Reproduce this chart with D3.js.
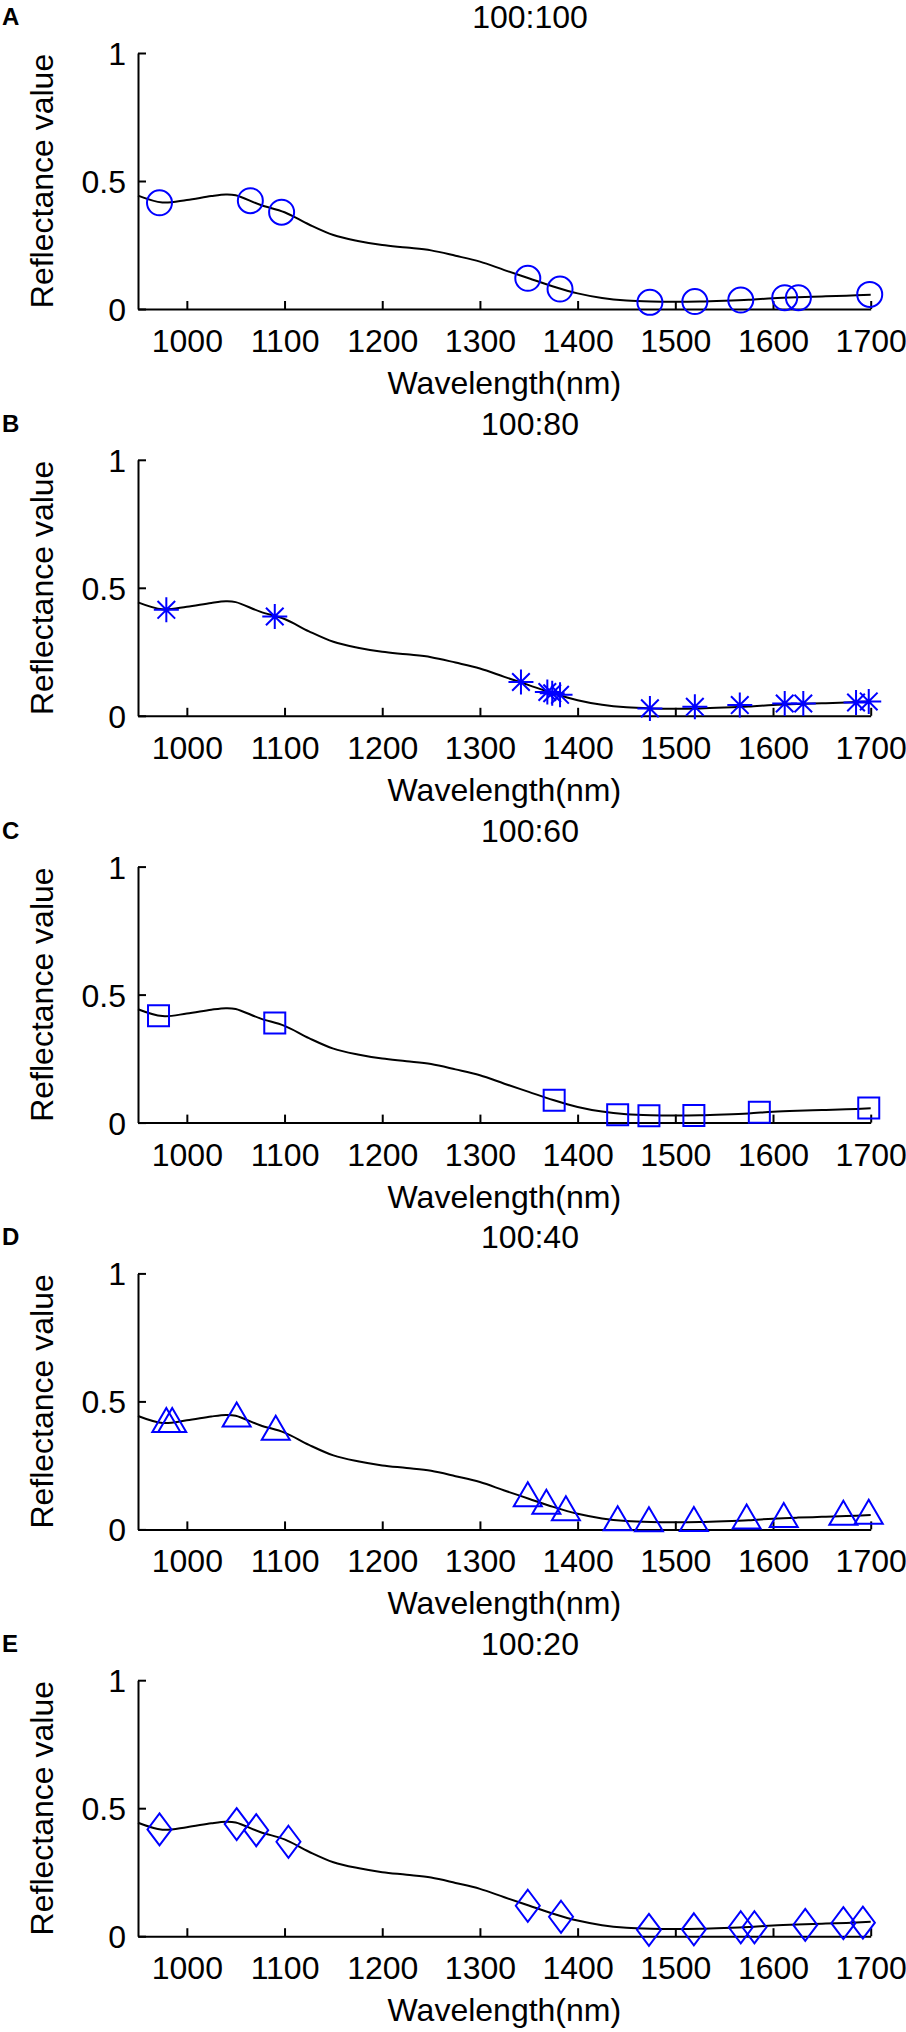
<!DOCTYPE html>
<html>
<head>
<meta charset="utf-8">
<script src="https://cdn.jsdelivr.net/npm/d3@7/dist/d3.min.js"></script>
<style>
  html, body { margin: 0; padding: 0; background: #fff; }
  svg { display: block; }
  text { font-family: "Liberation Sans", Arial, Helvetica, sans-serif; fill: #000; }
</style>
</head>
<body>
<svg id="chart" width="906" height="2032"></svg>
<script>
// ---------- data ----------
const panelLetters = ["A", "B", "C", "D", "E"];
const panelTitles = ["100:100", "100:80", "100:60", "100:40", "100:20"];
const markerTypes = ["circle", "asterisk", "square", "triangle", "diamond"];
const xTicks = [1000, 1100, 1200, 1300, 1400, 1500, 1600, 1700];
const yTicks = [0, 0.5, 1];
const yTickLabels = ["0", "0.5", "1"];
const xLabel = "Wavelength(nm)";
const yLabel = "Reflectance value";

// mean spectrum (same in all panels)
const curveWavelength = [950, 975, 1000, 1025, 1040, 1050, 1075, 1100, 1125, 1150, 1175, 1200, 1225, 1250, 1275, 1300, 1325, 1350, 1375, 1400, 1425, 1450, 1475, 1500, 1525, 1550, 1575, 1600, 1625, 1650, 1675, 1700];
const curveReflectance = [0.443, 0.416, 0.426, 0.441, 0.447, 0.444, 0.407, 0.378, 0.330, 0.289, 0.266, 0.250, 0.240, 0.229, 0.208, 0.185, 0.152, 0.120, 0.088, 0.061, 0.043, 0.033, 0.029, 0.028, 0.029, 0.032, 0.036, 0.042, 0.046, 0.049, 0.052, 0.056];

// selected wavelengths per ratio
const selWlA = [972, 1065, 1097, 1349, 1382, 1474, 1520, 1567, 1612, 1626, 1699];
const selRA  = [0.415, 0.423, 0.378, 0.120, 0.078, 0.026, 0.029, 0.035, 0.044, 0.044, 0.057];
const selWlB = [979, 1090, 1342, 1369, 1374, 1382, 1474, 1520, 1566, 1612, 1631, 1685, 1698];
const selRB  = [0.414, 0.388, 0.132, 0.093, 0.088, 0.082, 0.029, 0.035, 0.042, 0.048, 0.048, 0.052, 0.056];
const selWlC = [971, 1090, 1376, 1441, 1473, 1519, 1586, 1698];
const selRC  = [0.417, 0.389, 0.087, 0.031, 0.027, 0.028, 0.040, 0.057];
const selWlD = [979, 985, 1051, 1091, 1349, 1368, 1388, 1441, 1473, 1519, 1573, 1611, 1672, 1698];
const selRD  = [0.427, 0.427, 0.449, 0.397, 0.137, 0.108, 0.083, 0.044, 0.040, 0.041, 0.050, 0.056, 0.065, 0.069];
const selWlE = [972, 1051, 1071, 1104, 1349, 1383, 1473, 1519, 1567, 1581, 1633, 1672, 1692];
const selRE  = [0.417, 0.438, 0.414, 0.369, 0.119, 0.076, 0.025, 0.027, 0.035, 0.035, 0.044, 0.051, 0.053];

const selWl = [selWlA, selWlB, selWlC, selWlD, selWlE];
const selR = [selRA, selRB, selRC, selRD, selRE];

// ---------- layout ----------
const svg = d3.select("#chart");
const panelH = 406.8;
const left = 138, right = 870.7;
const baseY0 = 309, plotH = 256;
const blue = "#0000ff";

const x = d3.scaleLinear().domain([950, 1700]).range([left, right]);
const curvePts = curveWavelength.map((w, i) => [w, curveReflectance[i]]);

function markerPath(type) {
  switch (type) {
    case "triangle": return "M0,-12L14,12L-14,12Z";
    case "diamond": return "M0,-16L12,0L0,16L-12,0Z";
    case "square": return "M-10.5,-10.5H10.5V10.5H-10.5Z";
    case "asterisk": return "M0,-12.5V12.5M-12.5,0H12.5M-8.8,-8.8L8.8,8.8M-8.8,8.8L8.8,-8.8";
  }
  return "";
}

panelTitles.forEach((title, p) => {
  const off = p * panelH;
  const y0 = baseY0 + off;
  const y = d3.scaleLinear().domain([0, 1]).range([y0, y0 - plotH]);
  const g = svg.append("g");

  // panel letter
  g.append("text").attr("x", 2).attr("y", 25 + off)
    .attr("font-size", 24).attr("font-weight", "bold").text(panelLetters[p]);

  // title
  g.append("text").attr("x", 530).attr("y", 28 + off)
    .attr("text-anchor", "middle").attr("font-size", 32).text(title);

  // x axis
  const xa = g.append("g").attr("transform", `translate(0,${y0})`)
    .call(d3.axisBottom(x).tickValues(xTicks).tickFormat(d3.format("d"))
      .tickSizeInner(-8).tickSizeOuter(0));
  xa.select(".domain").attr("stroke", "#000").attr("stroke-width", 2);
  xa.selectAll(".tick line").attr("stroke", "#000").attr("stroke-width", 2);
  xa.selectAll(".tick text").attr("y", 43).attr("dy", null)
    .attr("font-size", 32).attr("fill", "#000")
    .style("font-family", '"Liberation Sans", Arial, sans-serif');

  // y axis
  const ya = g.append("g").attr("transform", `translate(${left},0)`)
    .call(d3.axisLeft(y).tickValues(yTicks).tickFormat((d, i) => yTickLabels[i])
      .tickSizeInner(-8).tickSizeOuter(0).tickPadding(12));
  ya.select(".domain").attr("stroke", "#000").attr("stroke-width", 2);
  ya.selectAll(".tick line").attr("stroke", "#000").attr("stroke-width", 2);
  ya.selectAll(".tick text").attr("font-size", 32).attr("fill", "#000")
    .attr("dy", "0.36em")
    .style("font-family", '"Liberation Sans", Arial, sans-serif');

  // axis labels
  g.append("text").attr("x", (left + right) / 2).attr("y", 394 + off)
    .attr("text-anchor", "middle").attr("font-size", 32).text(xLabel);
  g.append("text")
    .attr("transform", `translate(53,${y0 - plotH / 2}) rotate(-90)`)
    .attr("text-anchor", "middle").attr("font-size", 32).text(yLabel);

  // spectrum curve
  const line = d3.line().x(d => x(d[0])).y(d => y(d[1])).curve(d3.curveCatmullRom.alpha(0.5));
  g.append("path").datum(curvePts).attr("d", line)
    .attr("fill", "none").attr("stroke", "#000").attr("stroke-width", 2);

  // markers
  const pts = selWl[p].map((w, i) => [w, selR[p][i]]);
  const type = markerTypes[p];
  if (type === "circle") {
    g.selectAll("circle.m").data(pts).enter().append("circle").attr("class", "m")
      .attr("cx", d => x(d[0])).attr("cy", d => y(d[1])).attr("r", 12.5)
      .attr("fill", "none").attr("stroke", blue).attr("stroke-width", 2);
  } else {
    g.selectAll("path.m").data(pts).enter().append("path").attr("class", "m")
      .attr("transform", d => `translate(${x(d[0])},${y(d[1])})`)
      .attr("d", markerPath(type))
      .attr("fill", "none").attr("stroke", blue).attr("stroke-width", 2);
  }
});
</script>
</body>
</html>
